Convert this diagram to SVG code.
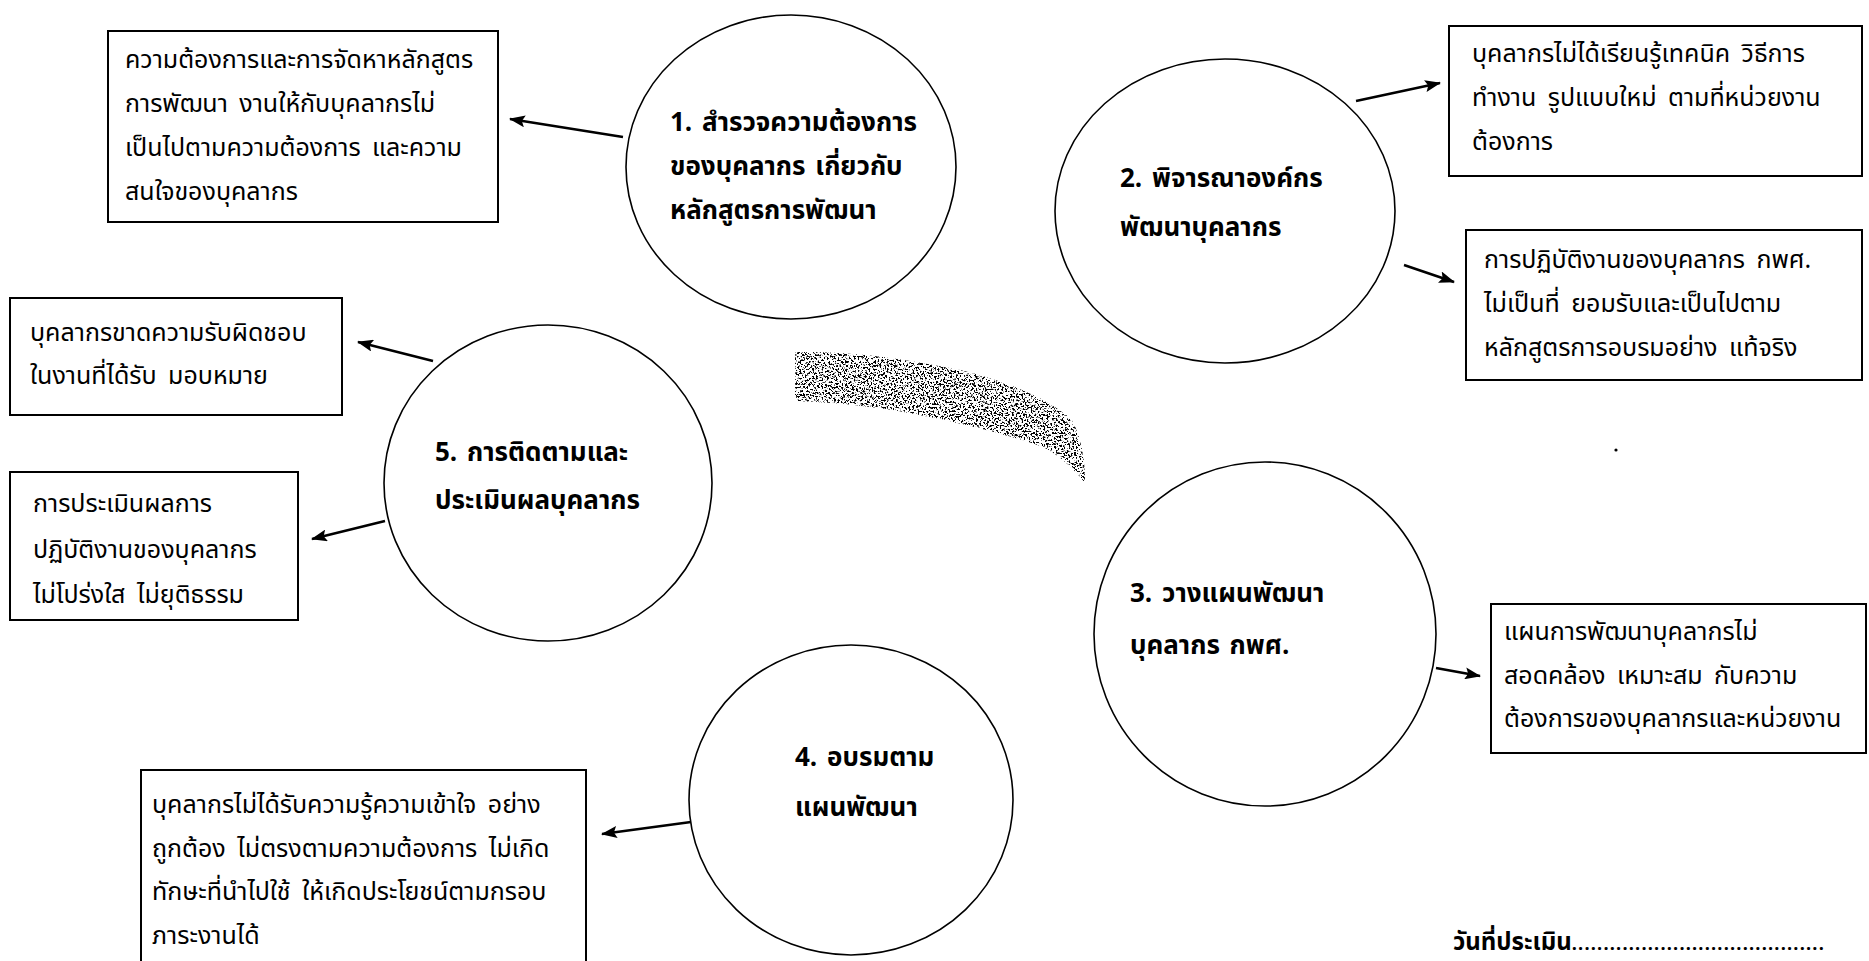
<svg xmlns="http://www.w3.org/2000/svg" width="1869" height="961" viewBox="0 0 1869 961">
<style>
.bg{fill:#ffffff}
.box{fill:#ffffff;stroke:#000;stroke-width:2}
.node{fill:#ffffff;stroke:#000;stroke-width:1.6}
.bt{font-family:"Noto Sans Thai","Noto Sans","Liberation Sans",sans-serif;font-size:25px;word-spacing:5px;fill:#000}
.ct{font-family:"Noto Sans Thai","Noto Sans","Liberation Sans",sans-serif;font-size:26px;font-weight:bold;word-spacing:3px;fill:#000}
.ft{font-family:"Noto Sans Thai","Noto Sans","Liberation Sans",sans-serif;font-size:24px;font-weight:bold;fill:#000}
.conn line{stroke:#000;stroke-width:2.5;marker-end:url(#ah)}
</style>
<defs>
<marker id="ah" markerWidth="16" markerHeight="12" refX="15" refY="6" orient="auto" markerUnits="userSpaceOnUse">
<path d="M0,0 L16,6 L0,12 L3,6 z" fill="#000"/>
</marker>
<filter id="speckle" x="0" y="0" width="100%" height="100%">
<feTurbulence type="fractalNoise" baseFrequency="0.55" numOctaves="2" seed="7" result="n"/>
<feColorMatrix in="n" type="matrix" values="0 0 0 0 0  0 0 0 0 0  0 0 0 0 0  -14 0 0 0 6.7" result="dots"/>
<feComposite in="dots" in2="SourceGraphic" operator="in"/>
</filter>
</defs>
<rect class="bg" x="0" y="0" width="1869" height="961"/>

<g id="smudge">
<path d="M795,352 C840,352 880,354 960,370 C1010,382 1050,400 1072,420 C1082,440 1085,460 1085,483 C1075,470 1060,455 1043,447 C1010,435 960,422 893,410 C860,405 830,402 795,401 Z" fill="#000" filter="url(#speckle)"/>
</g>

<g class="conn" id="connectors">
<line x1="623" y1="137" x2="510" y2="119"/>
<line x1="1356" y1="101" x2="1440" y2="83"/>
<line x1="1404" y1="265" x2="1454" y2="282"/>
<line x1="1436" y1="668" x2="1480" y2="676"/>
<line x1="691" y1="822" x2="602" y2="834"/>
<line x1="433" y1="361" x2="358" y2="342"/>
<line x1="385" y1="521" x2="312" y2="539"/>
</g>

<g id="node1">
<ellipse class="node" cx="791" cy="167" rx="165" ry="152"/>
<text class="ct" x="670" y="131">1. สำรวจความต้องการ</text>
<text class="ct" x="670" y="175">ของบุคลากร เกี่ยวกับ</text>
<text class="ct" x="670" y="219">หลักสูตรการพัฒนา</text>
</g>

<g id="node2">
<ellipse class="node" cx="1225" cy="211" rx="170" ry="152"/>
<text class="ct" x="1120" y="187">2. พิจารณาองค์กร</text>
<text class="ct" x="1120" y="236">พัฒนาบุคลากร</text>
</g>

<g id="node3">
<ellipse class="node" cx="1265" cy="634" rx="171" ry="172"/>
<text class="ct" x="1130" y="602">3. วางแผนพัฒนา</text>
<text class="ct" x="1130" y="654">บุคลากร กพศ.</text>
</g>

<g id="node4">
<ellipse class="node" cx="851" cy="800" rx="162" ry="155"/>
<text class="ct" x="795" y="766">4. อบรมตาม</text>
<text class="ct" x="795" y="816">แผนพัฒนา</text>
</g>

<g id="node5">
<ellipse class="node" cx="548" cy="483" rx="164" ry="158"/>
<text class="ct" x="435" y="461">5. การติดตามและ</text>
<text class="ct" x="435" y="509">ประเมินผลบุคลากร</text>
</g>

<g id="box1">
<rect class="box" x="108" y="31" width="390" height="191"/>
<text class="bt" x="125" y="68">ความต้องการและการจัดหาหลักสูตร</text>
<text class="bt" x="125" y="112">การพัฒนา งานให้กับบุคลากรไม่</text>
<text class="bt" x="125" y="156">เป็นไปตามความต้องการ และความ</text>
<text class="bt" x="125" y="200">สนใจของบุคลากร</text>
</g>

<g id="box2a">
<rect class="box" x="1449" y="26" width="413" height="150"/>
<text class="bt" x="1472" y="62">บุคลากรไม่ได้เรียนรู้เทคนิค วิธีการ</text>
<text class="bt" x="1472" y="106">ทำงาน รูปแบบใหม่ ตามที่หน่วยงาน</text>
<text class="bt" x="1472" y="150">ต้องการ</text>
</g>

<g id="box2b">
<rect class="box" x="1466" y="230" width="396" height="150"/>
<text class="bt" x="1484" y="268">การปฏิบัติงานของบุคลากร กพศ.</text>
<text class="bt" x="1484" y="312">ไม่เป็นที่ ยอมรับและเป็นไปตาม</text>
<text class="bt" x="1484" y="356">หลักสูตรการอบรมอย่าง แท้จริง</text>
</g>

<g id="box3a">
<rect class="box" x="1491" y="604" width="375" height="149"/>
<text class="bt" x="1504" y="640">แผนการพัฒนาบุคลากรไม่</text>
<text class="bt" x="1504" y="684">สอดคล้อง เหมาะสม กับความ</text>
<text class="bt" x="1504" y="727">ต้องการของบุคลากรและหน่วยงาน</text>
</g>

<g id="box4a">
<rect class="box" x="141" y="770" width="445" height="200"/>
<text class="bt" x="152" y="813">บุคลากรไม่ได้รับความรู้ความเข้าใจ อย่าง</text>
<text class="bt" x="152" y="857">ถูกต้อง ไม่ตรงตามความต้องการ ไม่เกิด</text>
<text class="bt" x="152" y="900">ทักษะที่นำไปใช้ ให้เกิดประโยชน์ตามกรอบ</text>
<text class="bt" x="152" y="944">ภาระงานได้</text>
</g>

<g id="box5a">
<rect class="box" x="10" y="298" width="332" height="117"/>
<text class="bt" x="30" y="341">บุคลากรขาดความรับผิดชอบ</text>
<text class="bt" x="30" y="384">ในงานที่ได้รับ มอบหมาย</text>
</g>

<g id="box5b">
<rect class="box" x="10" y="472" width="288" height="148"/>
<text class="bt" x="33" y="512">การประเมินผลการ</text>
<text class="bt" x="33" y="558">ปฏิบัติงานของบุคลากร</text>
<text class="bt" x="33" y="603">ไม่โปร่งใส ไม่ยุติธรรม</text>
</g>

<g id="footer">
<circle cx="1616" cy="450" r="1.6" fill="#000"/>
<text class="ft" x="1453" y="950">วันที่ประเมิน<tspan font-size="18" letter-spacing="1.2">........................................</tspan></text>
</g>
</svg>
